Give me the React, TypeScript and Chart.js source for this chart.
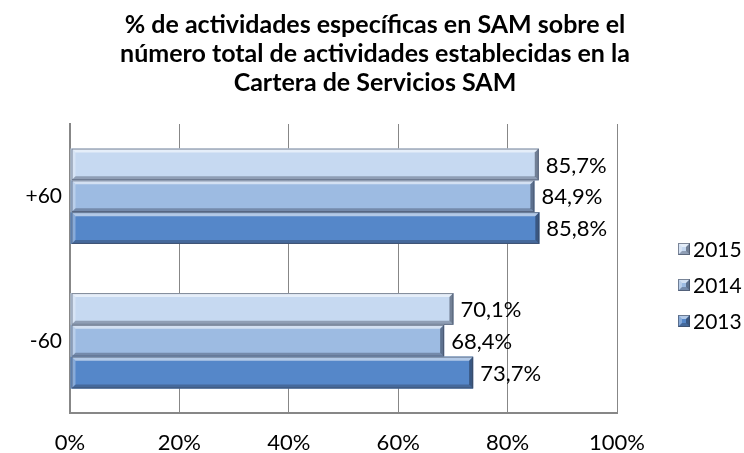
import React, { useEffect, useRef } from "react";
import { Chart, registerables } from "chart.js";

Chart.register(...registerables);

const titleLines = [
  "% de actividades específicas en SAM sobre el",
  "número total de actividades establecidas en la",
  "Cartera de Servicios SAM",
];
const categories = ["+60", "-60"];
const seriesNames = ["2015", "2014", "2013"];
const values2015 = [85.7, 70.1];
const values2014 = [84.9, 68.4];
const values2013 = [85.8, 73.7];
const seriesColors = ["#C6D9F1", "#9DBBE2", "#5587C9"];
const xTickValues = [0, 20, 40, 60, 80, 100];

const FONT = "Lato, 'Open Sans', sans-serif";

function bevelRect(ctx: CanvasRenderingContext2D, x0: number, y0: number, x1: number, y1: number, fill: string, b: number) {
  const w = x1 - x0;
  const h = y1 - y0;
  ctx.save();
  ctx.fillStyle = fill;
  ctx.fillRect(x0, y0, w, h);
  ctx.fillStyle = "rgba(255,255,255,0.55)";
  ctx.beginPath();
  ctx.moveTo(x0, y0);
  ctx.lineTo(x1, y0);
  ctx.lineTo(x1 - b, y0 + b);
  ctx.lineTo(x0 + b, y0 + b);
  ctx.closePath();
  ctx.fill();
  ctx.fillStyle = "rgba(255,255,255,0.3)";
  ctx.beginPath();
  ctx.moveTo(x0, y0);
  ctx.lineTo(x0 + b, y0 + b);
  ctx.lineTo(x0 + b, y1 - b);
  ctx.lineTo(x0, y1);
  ctx.closePath();
  ctx.fill();
  ctx.fillStyle = "rgba(40,50,70,0.35)";
  ctx.beginPath();
  ctx.moveTo(x0, y1);
  ctx.lineTo(x0 + b, y1 - b);
  ctx.lineTo(x1 - b, y1 - b);
  ctx.lineTo(x1, y1);
  ctx.closePath();
  ctx.fill();
  ctx.fillStyle = "rgba(30,40,60,0.5)";
  ctx.beginPath();
  ctx.moveTo(x1, y0);
  ctx.lineTo(x1, y1);
  ctx.lineTo(x1 - b, y1 - b);
  ctx.lineTo(x1 - b, y0 + b);
  ctx.closePath();
  ctx.fill();
  ctx.strokeStyle = "rgba(60,70,90,0.6)";
  ctx.lineWidth = 1;
  ctx.strokeRect(x0 + 0.5, y0 + 0.5, w - 1, h - 1);
  ctx.restore();
}

const titlePlugin = {
  id: "centeredTitle",
  afterDraw(chart: any) {
    const ctx = chart.ctx as CanvasRenderingContext2D;
    const baselines = [33, 62, 91];
    ctx.save();
    ctx.font = `bold 25px ${FONT}`;
    ctx.fillStyle = "#000";
    ctx.textAlign = "center";
    ctx.textBaseline = "alphabetic";
    titleLines.forEach((line, i) => ctx.fillText(line, 375, baselines[i]));
    ctx.restore();
  },
};

const bevelBarsPlugin = {
  id: "bevelBars",
  afterDatasetsDraw(chart: any) {
    const ctx = chart.ctx as CanvasRenderingContext2D;
    chart.data.datasets.forEach((ds: any, di: number) => {
      const meta = chart.getDatasetMeta(di);
      meta.data.forEach((el: any, i: number) => {
        const p = el.getProps(["x", "y", "base", "height"], true);
        const x0 = Math.min(p.base, p.x);
        const x1 = Math.max(p.base, p.x);
        const y0 = p.y - p.height / 2;
        const y1 = p.y + p.height / 2;
        bevelRect(ctx, x0 + 1, y0, x1, y1, ds.backgroundColor, 4);
        const v = ds.data[i] as number;
        const txt = v.toFixed(1).replace(".", ",") + "%";
        ctx.save();
        ctx.font = `22px ${FONT}`;
        ctx.fillStyle = "#000";
        ctx.textAlign = "left";
        ctx.textBaseline = "middle";
        ctx.fillText(txt, x1 + 7, p.y + 1);
        ctx.restore();
      });
    });
  },
};

const sideLegendPlugin = {
  id: "sideLegend",
  afterDraw(chart: any) {
    const ctx = chart.ctx as CanvasRenderingContext2D;
    const yPositions = [249, 285, 321];
    chart.data.datasets.forEach((ds: any, di: number) => {
      const cy = yPositions[di];
      bevelRect(ctx, 678, cy - 6, 690, cy + 6, ds.backgroundColor, 4);
      ctx.save();
      ctx.font = `21px ${FONT}`;
      ctx.fillStyle = "#000";
      ctx.textAlign = "left";
      ctx.textBaseline = "middle";
      ctx.fillText(ds.label, 693, cy + 1);
      ctx.restore();
    });
  },
};

export default function App() {
  const canvasRef = useRef<HTMLCanvasElement | null>(null);

  useEffect(() => {
    if (!canvasRef.current) return;
    const seriesValues = [values2015, values2014, values2013];
    const chart = new Chart(canvasRef.current, {
      type: "bar",
      data: {
        labels: categories,
        datasets: seriesNames.map((name, i) => ({
          label: name,
          data: seriesValues[i],
          backgroundColor: seriesColors[i],
          borderWidth: 0,
          categoryPercentage: 0.66,
          barPercentage: 1.0,
        })),
      },
      options: {
        indexAxis: "y",
        animation: false,
        responsive: false,
        maintainAspectRatio: false,
        devicePixelRatio: 1,
        layout: { padding: { top: 124, left: 0, right: 127, bottom: 0 } },
        plugins: {
          legend: { display: false },
          tooltip: { enabled: false },
          title: { display: false },
        },
        scales: {
          x: {
            min: 0,
            max: 100,
            afterBuildTicks: (scale: any) => {
              scale.ticks = xTickValues.map((v) => ({ value: v }));
            },
            afterFit: (scale: any) => {
              scale.height = 40;
            },
            ticks: {
              callback: (v: any) => `${v}%`,
              color: "#000",
              font: { family: FONT, size: 22 },
              padding: 17,
              maxRotation: 0,
            },
            grid: { color: "#878787", lineWidth: 1, drawTicks: false },
            border: { display: true, color: "#878787", width: 2 },
          },
          y: {
            afterFit: (scale: any) => {
              scale.width = 70;
            },
            ticks: {
              color: "#000",
              font: { family: FONT, size: 21 },
              padding: 8,
            },
            grid: { display: false, drawTicks: false },
            border: { display: true, color: "#878787", width: 2 },
          },
        },
      },
      plugins: [bevelBarsPlugin, sideLegendPlugin, titlePlugin],
    } as any);
    return () => chart.destroy();
  }, []);

  return (
    <div style={{ position: "absolute", left: 0, top: 0, width: 744, height: 453, background: "#fff" }}>
      <canvas ref={canvasRef} width={744} height={453} />
    </div>
  );
}
